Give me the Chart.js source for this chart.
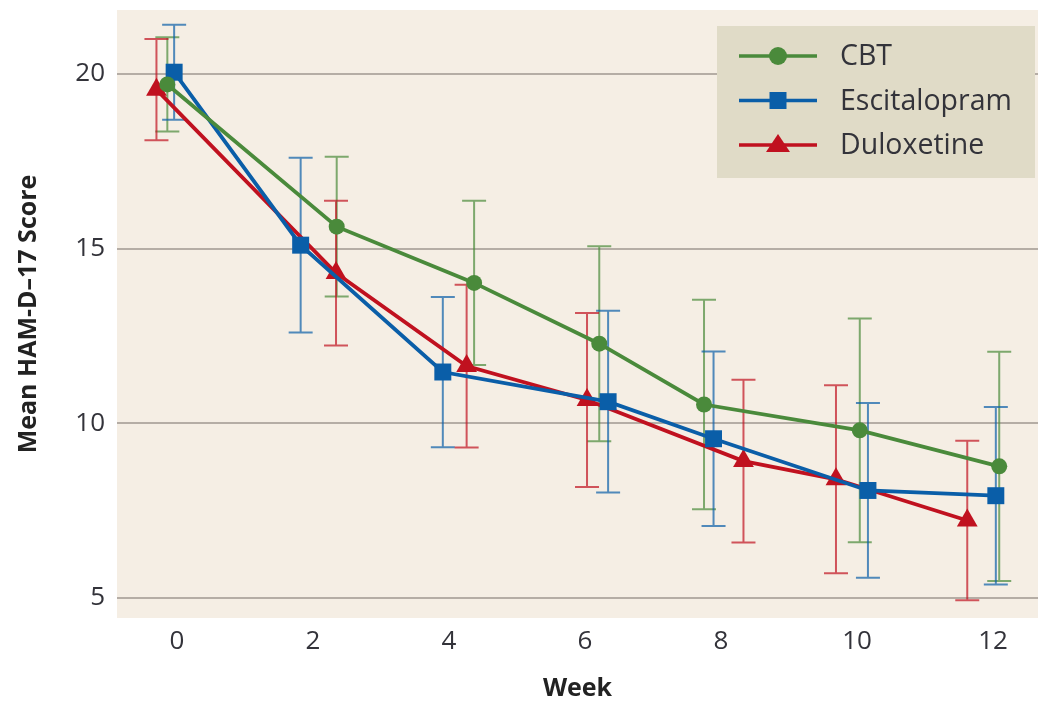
<!DOCTYPE html>
<html>
<head>
<meta charset="utf-8">
<script src="https://cdn.jsdelivr.net/npm/chart.js@4.4.1/dist/chart.umd.min.js"></script>
<style>
  html, body { margin: 0; background: #fff; overflow: hidden; }
  #wrap { width: 1038px; height: 701px; }
</style>
</head>
<body>
<div id="wrap"><canvas id="grafico"></canvas></div>
<script>
// ========================== DATA ==========================

const weekTicks = [0, 2, 4, 6, 8, 10, 12];
const scoreTicks = [5, 10, 15, 20];

const seriesNames = ["CBT", "Escitalopram", "Duloxetine"];

// weeks are dodged a little per group, as in the figure
const cbtWeek = [-0.14, 2.35, 4.37, 6.21, 7.75, 10.04, 12.09];
const cbtMean = [19.7, 15.63, 14.02, 12.28, 10.54, 9.8, 8.77];
const cbtErr = [1.35, 2.0, 2.35, 2.79, 3.0, 3.2, 3.28];

const escWeek = [-0.04, 1.82, 3.91, 6.34, 7.89, 10.16, 12.04];
const escMean = [20.05, 15.1, 11.47, 10.62, 9.56, 8.08, 7.93];
const escErr = [1.36, 2.5, 2.15, 2.6, 2.5, 2.5, 2.54];

const dulWeek = [-0.3, 2.34, 4.26, 6.03, 8.33, 9.69, 11.62];
const dulMean = [19.55, 14.3, 11.64, 10.67, 8.92, 8.4, 7.22];
const dulErr = [1.45, 2.07, 2.33, 2.49, 2.33, 2.69, 2.28];

// ========================== STYLE ==========================

const verde = "rgb(74, 138, 59)";
const azul = "rgb(10, 94, 168)";
const rojo = "rgb(192, 17, 31)";

const fuente = "'Open Sans', 'DejaVu Sans', sans-serif";

function toPoints(xs, ys) {
  return xs.map((x, i) => ({ x: x, y: ys[i] }));
}

function serie(name, xs, ys, errs, color, style, radius) {
  return {
    label: name,
    data: toPoints(xs, ys),
    errors: errs,
    borderColor: color,
    backgroundColor: color,
    borderWidth: 3.8,
    pointStyle: style,
    pointRadius: radius,
    pointBorderWidth: 0,
    pointBackgroundColor: color,
    tension: 0,
  };
}

// background of the plot area
const fondo = {
  id: "fondo",
  beforeDraw(chart) {
    const { ctx, chartArea: a } = chart;
    ctx.save();
    ctx.fillStyle = "#f5eee4";
    ctx.fillRect(a.left, a.top, a.right - a.left, a.bottom - a.top);
    ctx.restore();
  },
};

// error bars (mean +/- err), drawn below the lines
const barrasError = {
  id: "barrasError",
  beforeDatasetsDraw(chart) {
    const { ctx, scales } = chart;
    ctx.save();
    ctx.lineWidth = 2;
    ctx.globalAlpha = 0.7;
    chart.data.datasets.forEach((ds) => {
      ctx.strokeStyle = ds.borderColor;
      ds.data.forEach((p, i) => {
        const x = scales.x.getPixelForValue(p.x);
        const y1 = scales.y.getPixelForValue(p.y + ds.errors[i]);
        const y2 = scales.y.getPixelForValue(p.y - ds.errors[i]);
        ctx.beginPath();
        ctx.moveTo(x, y1);
        ctx.lineTo(x, y2);
        ctx.moveTo(x - 12, y1);
        ctx.lineTo(x + 12, y1);
        ctx.moveTo(x - 12, y2);
        ctx.lineTo(x + 12, y2);
        ctx.stroke();
      });
    });
    ctx.restore();
  },
};

// legend box in the upper right corner
const leyenda = {
  id: "leyenda",
  afterDatasetsDraw(chart) {
    const { ctx, chartArea: a } = chart;
    const bx = 717, by = a.top + 16, bw = a.right - 3 - bx, bh = 152;
    ctx.save();
    ctx.fillStyle = "#e0dbc7";
    ctx.fillRect(bx, by, bw, bh);
    chart.data.datasets.forEach((ds, i) => {
      const y = by + 30 + i * 44.5;
      ctx.strokeStyle = ds.borderColor;
      ctx.fillStyle = ds.borderColor;
      ctx.lineWidth = 3.5;
      ctx.beginPath();
      ctx.moveTo(739, y);
      ctx.lineTo(817, y);
      ctx.stroke();
      const cx = 778;
      ctx.beginPath();
      if (ds.pointStyle === "circle") {
        ctx.arc(cx, y, 9, 0, Math.PI * 2);
      } else if (ds.pointStyle === "rect") {
        ctx.rect(cx - 8.5, y - 8.5, 17, 17);
      } else {
        ctx.moveTo(cx, y - 11);
        ctx.lineTo(cx + 12, y + 7);
        ctx.lineTo(cx - 12, y + 7);
        ctx.closePath();
      }
      ctx.fill();
      ctx.fillStyle = "#33333a";
      ctx.font = "28.5px " + fuente;
      ctx.textBaseline = "middle";
      ctx.fillText(ds.label, 840, y + 1);
    });
    ctx.restore();
  },
};

// ========================== CHART ==========================

const config = {
  type: "line",
  data: {
    datasets: [
      serie(seriesNames[0], cbtWeek, cbtMean, cbtErr, verde, "circle", 8),
      serie(seriesNames[1], escWeek, escMean, escErr, azul, "rect", 12),
      serie(seriesNames[2], dulWeek, dulMean, dulErr, rojo, "triangle", 12),
    ],
  },
  options: {
    responsive: true,
    maintainAspectRatio: false,
    animation: false,
    layout: {
      autoPadding: false,
      padding: { top: 10, right: 0, left: 0, bottom: 0 },
    },
    plugins: {
      legend: { display: false },
      tooltip: { enabled: false },
    },
    scales: {
      x: {
        type: "linear",
        min: -0.88,
        max: 12.66,
        afterBuildTicks: (s) => { s.ticks = weekTicks.map((v) => ({ value: v })); },
        afterFit: (s) => {
          s.height = 83;
          s.paddingLeft = 0;
          s.paddingRight = 0;
        },
        grid: { display: false, drawTicks: false },
        border: { display: false },
        ticks: {
          padding: 8,
          color: "#33333a",
          font: { family: fuente, size: 26 },
        },
        title: {
          display: true,
          text: "Week",
          color: "#222",
          padding: { top: 0, bottom: 0 },
          font: { family: fuente, size: 25, weight: "bold", lineHeight: 1 },
        },
      },
      y: {
        type: "linear",
        min: 4.43,
        max: 21.83,
        afterBuildTicks: (s) => { s.ticks = scoreTicks.map((v) => ({ value: v })); },
        afterFit: (s) => {
          s.width = 117;
          s.paddingTop = 0;
          s.paddingBottom = 0;
        },
        grid: { color: "#b5ada5", lineWidth: 2, drawTicks: false },
        border: { display: false },
        ticks: {
          padding: 12,
          color: "#33333a",
          font: { family: fuente, size: 26 },
        },
        title: {
          display: true,
          text: "Mean HAM-D–17 Score",
          color: "#222",
          padding: { top: 14, bottom: 0 },
          font: { family: fuente, size: 25, weight: "bold", lineHeight: 1.2 },
        },
      },
    },
  },
  plugins: [fondo, barrasError, leyenda],
};

const grafico = new Chart(document.getElementById("grafico"), config);
</script>
</body>
</html>
